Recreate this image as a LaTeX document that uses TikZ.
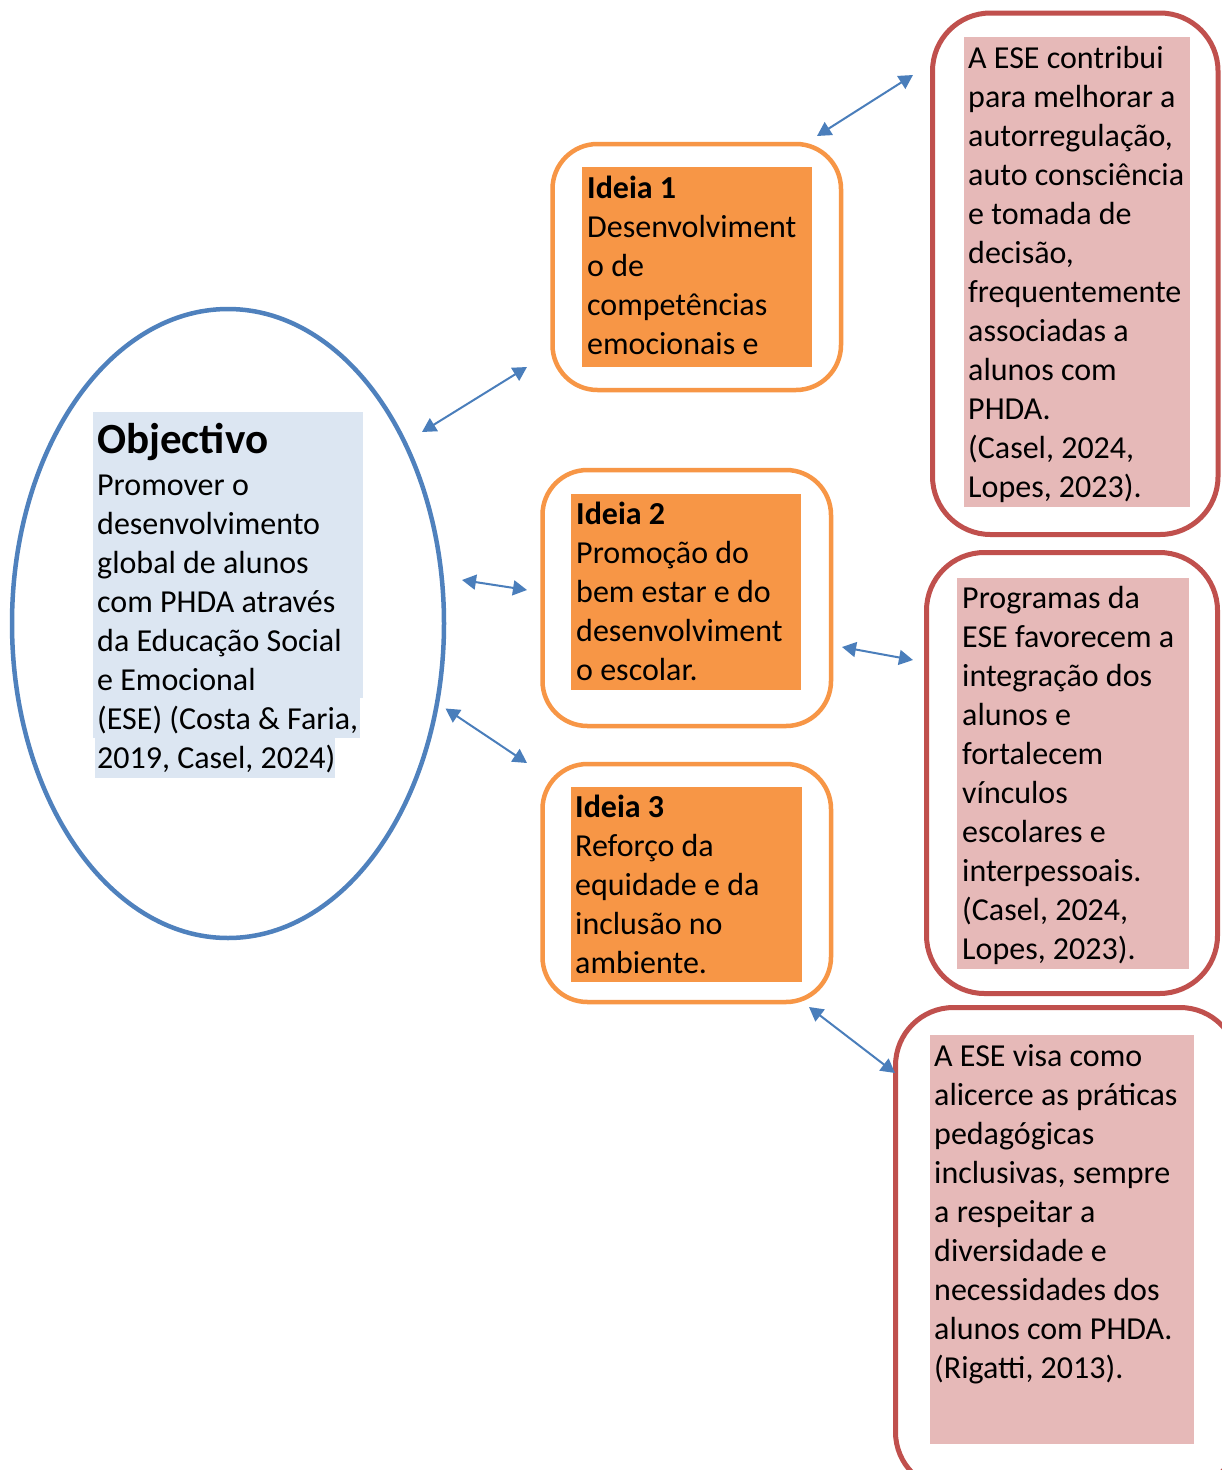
\documentclass[tikz,border=0pt]{standalone}
\usepackage{fontspec}
\setmainfont{Carlito}
\usetikzlibrary{shapes.geometric,arrows.meta}
\definecolor{eblue}{HTML}{4F81BD}
\definecolor{ablue}{HTML}{4A7EBB}
\definecolor{orng}{HTML}{F79646}
\definecolor{rred}{HTML}{C0504D}
\definecolor{pinkfill}{HTML}{E6B9B8}
\definecolor{lblue}{HTML}{DCE6F2}
\newcommand{\fl}{\rule{0pt}{29pt}}
\begin{document}
\begin{tikzpicture}[x=1pt,y=-1pt,
  txt/.style={anchor=north west, inner sep=0pt, align=left, font=\fontsize{32}{39}\selectfont},
  obox/.style={draw=orng, line width=4.5pt, rounded corners=45pt, rectangle, inner sep=0pt},
  rbox/.style={draw=rred, line width=5pt, rounded corners=58pt, rectangle, inner sep=0pt},
  ellbox/.style={draw=eblue, line width=4.5pt, ellipse, inner sep=0pt},
  link/.style={draw=ablue, line width=2pt, {Triangle[length=14pt,width=15pt]}-{Triangle[length=14pt,width=15pt]}}
]
\clip (0,0) rectangle (1222,1470);
\fill[white] (0,0) rectangle (1222,1470);

% Objective ellipse
\node[ellbox, minimum width=432pt, minimum height=629pt] (obj) at (228,623.5) {};
\fill[lblue] (93,412) rectangle (363,698);
\fill[lblue] (93,698) rectangle (360,738);
\fill[lblue] (95,738) rectangle (335,778);
\node[anchor=base west, inner sep=0pt, font=\fontsize{43}{50}\selectfont\bfseries] (objt) at (97,453) {Objectivo};
\node[txt] (objb) at (97,466) {\fl Promover o\\desenvolvimento\\global de alunos\\com PHDA através\\da Educação Social\\e Emocional\\(ESE) (Costa \& Faria,\\2019, Casel, 2024)};

% Idea boxes
\node[obox, minimum width=288.5pt, minimum height=246pt] (i1) at (696.75,267) {};
\fill[orng] (582,167) rectangle (812,367);
\node[txt] (i1t) at (587,169) {\fl\textbf{Ideia 1}\\Desenvolviment\\o de\\competências\\emocionais e};

\node[obox, minimum width=288.5pt, minimum height=256pt] (i2) at (686.75,598) {};
\fill[orng] (571,494) rectangle (801,690);
\node[txt] (i2t) at (576,495) {\fl\textbf{Ideia 2}\\Promoção do\\bem estar e do\\desenvolviment\\o escolar.};

\node[obox, minimum width=288.5pt, minimum height=238pt] (i3) at (686.75,883) {};
\fill[orng] (571,787) rectangle (802,982);
\node[txt] (i3t) at (575,788) {\fl\textbf{Ideia 3}\\Reforço da\\equidade e da\\inclusão no\\ambiente.};

% Right boxes
\node[rbox, minimum width=285.5pt, minimum height=521.5pt] (r1) at (1075.25,273.75) {};
\fill[pinkfill] (963.5,37) rectangle (1189.5,507);
\node[txt] (r1t) at (968,39.5) {\fl A ESE contribui\\para melhorar a\\autorregulação,\\auto consciência\\e tomada de\\decisão,\\frequentemente\\associadas a\\alunos com\\PHDA.\\(Casel, 2024,\\Lopes, 2023).};

\node[rbox, minimum width=291pt, minimum height=441pt] (r2) at (1072,773) {};
\fill[pinkfill] (957,578) rectangle (1189,969);
\node[txt] (r2t) at (962,579) {\fl Programas da\\ESE favorecem a\\integração dos\\alunos e\\fortalecem\\vínculos\\escolares e\\interpessoais.\\(Casel, 2024,\\Lopes, 2023).};

\node[rbox, minimum width=342.5pt, minimum height=482.5pt] (r3) at (1066.75,1248.75) {};
\fill[pinkfill] (930,1035) rectangle (1194,1444);
\node[txt] (r3t) at (934,1037) {\fl A ESE visa como\\alicerce as práticas\\pedagógicas\\inclusivas, sempre\\a respeitar a\\diversidade e\\necessidades dos\\alunos com PHDA.\\(Rigatti, 2013).};

% Connectors
\coordinate (a1s) at (422,432); \coordinate (a1e) at (527,367);
\coordinate (a2s) at (462,580); \coordinate (a2e) at (527,590);
\coordinate (a3s) at (445.5,708.5); \coordinate (a3e) at (527,763);
\coordinate (a4s) at (817,136); \coordinate (a4e) at (913,75);
\coordinate (a5s) at (842,647); \coordinate (a5e) at (913,660);
\coordinate (a6s) at (809,1007); \coordinate (a6e) at (895,1073);
\draw[link] (a1s) -- (a1e);
\draw[link] (a2s) -- (a2e);
\draw[link] (a3s) -- (a3e);
\draw[link] (a4s) -- (a4e);
\draw[link] (a5s) -- (a5e);
\draw[link] (a6s) -- (a6e);
\end{tikzpicture}
\end{document}
